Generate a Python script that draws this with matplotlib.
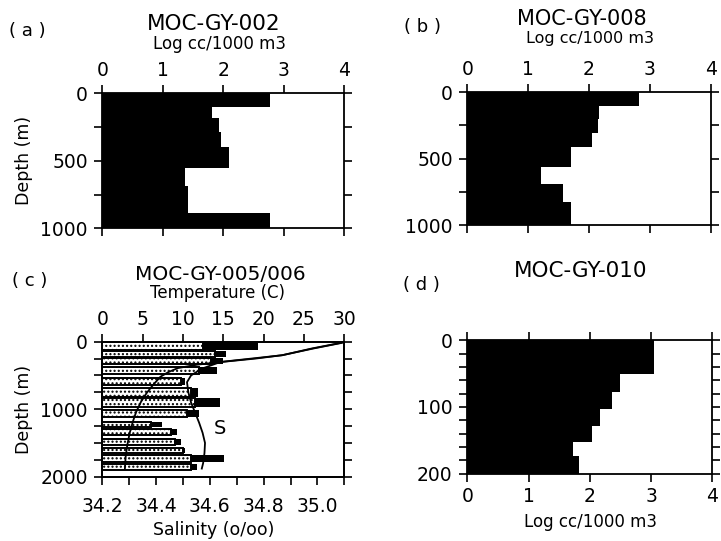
import matplotlib
matplotlib.use('Agg')
import matplotlib.pyplot as plt
import numpy as np

# (a) MOC-GY-002, depth bin edges (m) and Log cc/1000 m3
a_edges = [0, 100, 185, 285, 395, 550, 690, 890, 1000]
a_vals = [2.78, 1.81, 1.93, 1.96, 2.10, 1.36, 1.42, 2.78]

# (b) MOC-GY-008
b_edges = [0, 100, 200, 310, 410, 560, 690, 825, 1000]
b_vals = [2.82, 2.17, 2.14, 2.05, 1.70, 1.21, 1.58, 1.70]

# (d) MOC-GY-010
d_edges = [0, 50, 77, 103, 128, 152, 174, 200]
d_vals = [3.05, 2.49, 2.37, 2.16, 2.04, 1.72, 1.83]

# (c) MOC-GY-005/006, bars read on the temperature scale
c_top = [0, 138, 237, 370, 543, 692, 840, 1013, 1186, 1294, 1442, 1571, 1680, 1818]
c_bot = [124, 222, 336, 484, 642, 815, 963, 1111, 1260, 1383, 1531, 1655, 1788, 1902]
c_dots = [12.5, 14.0, 13.5, 12.0, 9.8, 11.0, 11.5, 10.5, 6.0, 8.5, 9.0, 10.0, 11.0, 11.0]
c_black = [19.3, 15.3, 15.0, 14.2, 10.3, 11.9, 14.6, 12.0, 7.4, 9.2, 9.8, 10.3, 15.1, 11.7]

temp_depth = [0, 15, 100, 200, 250, 300, 340, 390, 450, 520, 640, 760, 890,
              1040, 1180, 1350, 1530, 1700, 1880]
temp = [29.8, 29.8, 26.2, 22.3, 19.0, 14.8, 11.8, 9.4, 8.2, 7.2, 6.3, 5.5, 4.8,
        4.2, 3.8, 3.4, 3.1, 2.9, 2.8]

sal_depth = [0, 15, 100, 200, 300, 400, 500, 600, 750, 900, 1050, 1200, 1350,
             1500, 1650, 1800, 1880]
sal = [35.09, 35.09, 34.98, 34.87, 34.64, 34.57, 34.53, 34.515, 34.52, 34.53,
       34.545, 34.56, 34.573, 34.582, 34.58, 34.575, 34.57]

W, H = 721, 541
fig = plt.figure(figsize=(7.21, 5.41), dpi=100)

TS = 13.5  # tick label size


def px(x, y):
    return x / W, 1 - y / H


def style(ax):
    for s in ax.spines.values():
        s.set_linewidth(1.3)
    ax.tick_params(which='both', direction='out', length=5.5, width=1.2,
                   labelsize=TS, top=True, bottom=True, left=True, right=True)


def log_panel(ax, edges, vals, dmax, minor, top_labels):
    edges = np.array(edges)
    ax.barh(edges[:-1], vals, height=np.diff(edges), align='edge',
            color='black', linewidth=0)
    ax.set_xlim(0, 4)
    ax.set_ylim(dmax, 0)
    ax.set_xticks(range(5))
    ax.set_yticks([0, dmax // 2, dmax])
    ax.set_yticks(np.arange(0, dmax + 1, minor), minor=True)
    style(ax)
    ax.tick_params(labeltop=top_labels, labelbottom=not top_labels, pad=4)
    ax.tick_params(axis='y', pad=5)


ax_a = fig.add_axes([0.1419, 0.578, 0.3356, 0.2495])
log_panel(ax_a, a_edges, a_vals, 1000, 250, True)
ax_a.set_ylabel('Depth (m)', fontsize=12.5, labelpad=5)

ax_b = fig.add_axes([0.6481, 0.5841, 0.3376, 0.2453])
log_panel(ax_b, b_edges, b_vals, 1000, 250, True)

ax_d = fig.add_axes([0.6481, 0.1244, 0.3398, 0.2466])
log_panel(ax_d, d_edges, d_vals, 200, 20, False)

# (c)
plt.rcParams['hatch.linewidth'] = 1.0
ax_c = fig.add_axes([0.1419, 0.1189, 0.3356, 0.2495])
ax_s = ax_c.twiny()

ctop = np.array(c_top)
cheight = np.array(c_bot) - ctop
ax_c.barh(ctop, c_black, height=cheight, align='edge', color='black', linewidth=0)
ax_c.barh(ctop, c_dots, height=cheight, align='edge', facecolor='white',
          edgecolor='black', linewidth=1.4, hatch='....')
ax_c.plot(temp, temp_depth, color='black', lw=1.3)
ax_c.set_xlim(0, 30)
ax_c.set_ylim(2000, 0)
ax_c.set_xticks(range(0, 31, 5))
ax_c.set_yticks([0, 1000, 2000])
ax_c.set_yticks(np.arange(0, 2001, 250), minor=True)
style(ax_c)
ax_c.xaxis.set_ticks_position('top')
ax_c.tick_params(axis='x', top=True, bottom=False, labeltop=True,
                 labelbottom=False, pad=4)
ax_c.tick_params(axis='y', pad=5)
ax_c.set_ylabel('Depth (m)', fontsize=12.5, labelpad=5)
ax_c.text(14.6, 1280, 'S', fontsize=14, ha='center', va='center')

ax_s.plot(sal, sal_depth, color='black', lw=1.3)
ax_s.set_xlim(34.2, 35.1)
ax_s.set_ylim(2000, 0)
ax_s.set_xticks([34.2, 34.4, 34.6, 34.8, 35.0])
ax_s.set_xticklabels(['34.2', '34.4', '34.6', '34.8', '35.0'])
ax_s.set_xticks([34.3, 34.5, 34.7, 34.9, 35.1], minor=True)
ax_s.xaxis.set_ticks_position('bottom')
for s in ax_s.spines.values():
    s.set_linewidth(1.3)
ax_s.tick_params(which='both', direction='out', length=5.5, width=1.2,
                 labelsize=TS, top=False, bottom=True, labeltop=False,
                 labelbottom=True, pad=9)

# panel letters, titles and captions
fig.text(*px(27, 31), '( a )', fontsize=13, ha='center', va='center')
fig.text(*px(214, 24), 'MOC-GY-002', fontsize=15.5, ha='center', va='center')
fig.text(*px(220, 44), 'Log cc/1000 m3', fontsize=12, ha='center', va='center')

fig.text(*px(422, 27), '( b )', fontsize=13, ha='center', va='center')
fig.text(*px(582, 19), 'MOC-GY-008', fontsize=15, ha='center', va='center')
fig.text(*px(590, 39), 'Log cc/1000 m3', fontsize=11.5, ha='center', va='center')

fig.text(*px(30, 281), '( c )', fontsize=13, ha='center', va='center')
fig.text(*px(220, 274), 'MOC-GY-005/006', fontsize=14.5, ha='center', va='center')
fig.text(*px(218, 293), 'Temperature (C)', fontsize=12, ha='center', va='center')
fig.text(*px(214, 530), 'Salinity (o/oo)', fontsize=12.5, ha='center', va='center')

fig.text(*px(421, 285), '( d )', fontsize=13, ha='center', va='center')
fig.text(*px(581, 271), 'MOC-GY-010', fontsize=15.5, ha='center', va='center')
fig.text(*px(590, 522), 'Log cc/1000 m3', fontsize=12, ha='center', va='center')

fig.savefig('out.png', dpi=100)
